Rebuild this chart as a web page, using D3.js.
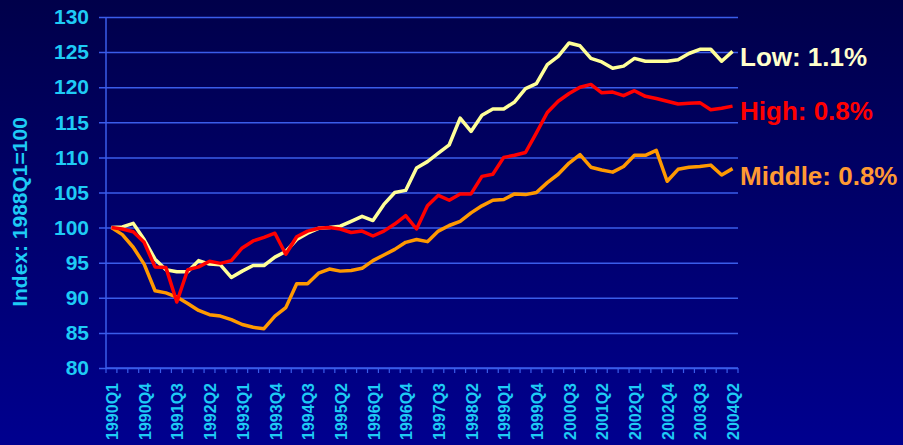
<!DOCTYPE html>
<html>
<head>
<meta charset="utf-8">
<script src="https://cdn.jsdelivr.net/npm/d3@7"></script>
<style>
  html, body { margin: 0; padding: 0; }
  body { width: 903px; height: 445px; overflow: hidden; }
  svg { display: block; font-family: Arial, "Liberation Sans", sans-serif; font-weight: bold; }
</style>
</head>
<body>
<div id="chart"></div>
<script>
// quarters 1990Q1 .. 2004Q2
var quarters = [];
for (var yr = 1990; yr <= 2004; yr++) {
  for (var q = 1; q <= 4; q++) {
    if (yr == 2004 && q > 2) break;
    quarters.push(yr + "Q" + q);
  }
}

var lowValues = [100.0, 100.1, 100.6, 98.3, 95.5, 94.0, 93.7, 93.7, 95.3, 94.8,
  94.7, 92.9, 93.8, 94.6, 94.6, 95.8, 96.6, 98.3, 99.2, 99.9,
  100.0, 100.2, 100.9, 101.6, 101.0, 103.3, 105.0, 105.3, 108.5, 109.4,
  110.6, 111.8, 115.6, 113.7, 116.0, 116.9, 116.9, 117.9, 119.8, 120.5,
  123.2, 124.4, 126.3, 125.9, 124.1, 123.6, 122.7, 123.0, 124.1, 123.7,
  123.7, 123.7, 123.9, 124.8, 125.4, 125.4, 123.7, 125.1];

var highValues = [100.0, 99.8, 99.4, 97.9, 94.4, 94.3, 89.4, 94.0, 94.4, 95.2,
  94.9, 95.3, 97.1, 98.1, 98.6, 99.2, 96.2, 98.7, 99.5, 99.9,
  100.0, 99.8, 99.3, 99.5, 98.8, 99.5, 100.5, 101.7, 99.8, 103.1,
  104.6, 103.9, 104.8, 104.8, 107.3, 107.6, 110.0, 110.3, 110.7, 113.5,
  116.4, 118.0, 119.1, 120.0, 120.4, 119.2, 119.3, 118.8, 119.5, 118.7,
  118.4, 118.0, 117.6, 117.7, 117.8, 116.8, 117.0, 117.3];

var middleValues = [100.0, 99.0, 97.2, 94.8, 91.0, 90.7, 90.1, 89.2, 88.2, 87.6,
  87.4, 86.9, 86.2, 85.8, 85.6, 87.4, 88.6, 92.0, 92.0, 93.5,
  94.1, 93.8, 93.9, 94.2, 95.3, 96.1, 96.9, 97.9, 98.3, 98.0,
  99.5, 100.3, 100.9, 102.1, 103.1, 103.9, 104.0, 104.8, 104.7, 105.0,
  106.4, 107.6, 109.2, 110.4, 108.6, 108.2, 107.9, 108.7, 110.3, 110.3,
  111.0, 106.6, 108.3, 108.6, 108.7, 108.9, 107.5, 108.4];

var yTicks = [80, 85, 90, 95, 100, 105, 110, 115, 120, 125, 130];
var xTickLabels = quarters.filter(function(d, i) { return i % 3 == 0; });

var seriesNames = ["Low: 1.1%", "High: 0.8%", "Middle: 0.8%"];

var width = 903, height = 445;
var plotLeft = 106, plotRight = 738, plotTop = 17, plotBottom = 368;
var gridColor = "#3a5cea";
var labelColor = "#1ecbf5";

var svg = d3.select("#chart").append("svg")
  .attr("width", width)
  .attr("height", height);

// background
var grad = svg.append("defs").append("linearGradient")
  .attr("id", "bg").attr("x1", 0).attr("y1", 0).attr("x2", 0).attr("y2", 1);
grad.append("stop").attr("offset", "0%").attr("stop-color", "#00004a");
grad.append("stop").attr("offset", "100%").attr("stop-color", "#00008f");
svg.append("rect").attr("width", width).attr("height", height).attr("fill", "url(#bg)");

var x = d3.scaleBand().domain(quarters).range([plotLeft, plotRight]).padding(0);
var y = d3.scaleLinear().domain([80, 130]).range([plotBottom, plotTop]);

// y grid + labels
var yAxis = svg.append("g")
  .attr("transform", "translate(" + (plotLeft - 7) + ",0)")
  .call(d3.axisLeft(y).tickValues(yTicks).tickSize(-(plotRight - plotLeft + 7)).tickPadding(10));
yAxis.select(".domain").remove();
yAxis.selectAll("line").attr("stroke", gridColor).attr("stroke-width", 1.5);
yAxis.selectAll("text")
  .attr("fill", labelColor)
  .style("font-size", "21px")
  .style("font-weight", "bold");

// y axis line
svg.append("line")
  .attr("x1", plotLeft).attr("x2", plotLeft)
  .attr("y1", plotTop).attr("y2", plotBottom)
  .attr("stroke", gridColor).attr("stroke-width", 1.5);

// x axis line and boundary ticks
svg.append("line")
  .attr("x1", plotLeft).attr("x2", plotRight)
  .attr("y1", plotBottom).attr("y2", plotBottom)
  .attr("stroke", gridColor).attr("stroke-width", 1.5);
var bounds = quarters.map(function(d) { return x(d); }).concat([plotRight]);
svg.selectAll(".xtick").data(bounds).enter().append("line")
  .attr("class", "xtick")
  .attr("x1", function(d) { return d; }).attr("x2", function(d) { return d; })
  .attr("y1", plotBottom).attr("y2", plotBottom + 5)
  .attr("stroke", gridColor).attr("stroke-width", 1.2);

// x labels
var xAxis = svg.append("g")
  .attr("transform", "translate(0," + plotBottom + ")")
  .call(d3.axisBottom(x).tickValues(xTickLabels).tickSize(0));
xAxis.select(".domain").remove();
xAxis.selectAll("text")
  .attr("fill", labelColor)
  .style("font-size", "16px")
  .style("font-weight", "bold")
  .attr("text-anchor", "end")
  .attr("transform", "rotate(-90)")
  .attr("x", -15)
  .attr("y", 1)
  .attr("dy", "0.35em");

// y title
svg.append("text")
  .attr("transform", "translate(27,212) rotate(-90)")
  .attr("text-anchor", "middle")
  .attr("fill", labelColor)
  .style("font-size", "21px")
  .text("Index: 1988Q1=100");

// lines
var line = d3.line()
  .x(function(d, i) { return x(quarters[i]) + x.bandwidth() / 2; })
  .y(function(d) { return y(d); });

var series = [
  { name: seriesNames[0], values: lowValues, color: "#ffff99", text: "#ffffcc", labelY: 57 },
  { name: seriesNames[1], values: highValues, color: "#ff0000", text: "#ff0000", labelY: 111 },
  { name: seriesNames[2], values: middleValues, color: "#ff9900", text: "#ff9933", labelY: 176 }
];

// draw order: middle, low, high on top
[series[2], series[0], series[1]].forEach(function(s) {
  svg.append("path")
    .datum(s.values)
    .attr("d", line)
    .attr("fill", "none")
    .attr("stroke", s.color)
    .attr("stroke-width", 3.5)
    .attr("stroke-linejoin", "round");
});

svg.selectAll(".slabel").data(series).enter().append("text")
  .attr("class", "slabel")
  .attr("x", plotRight + 2)
  .attr("y", function(d) { return d.labelY; })
  .attr("dy", "0.35em")
  .attr("fill", function(d) { return d.text; })
  .style("font-size", "26px")
  .text(function(d) { return d.name; });
</script>
</body>
</html>
